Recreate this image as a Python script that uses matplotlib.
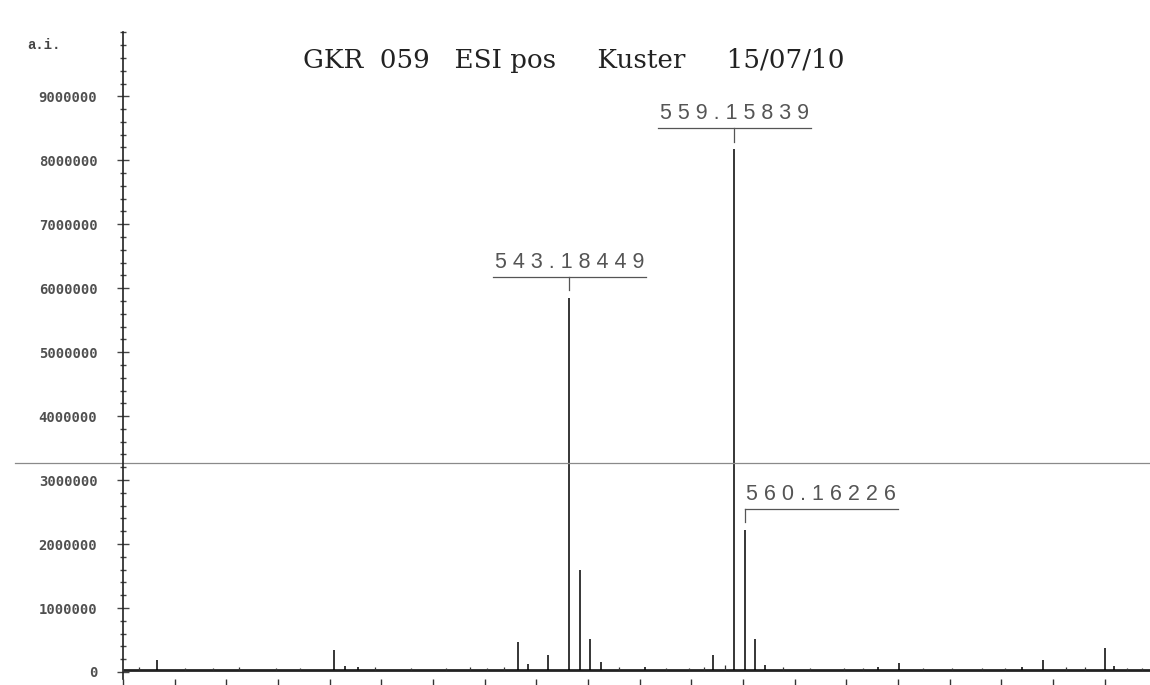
import matplotlib
matplotlib.use("Agg")
import matplotlib.pyplot as plt
from matplotlib.ticker import MultipleLocator, NullFormatter

# peaks (m/z, intensity in a.i.)
peak_mz = [503.3, 520.4, 521.5, 522.7, 538.2, 539.2, 541.1, 543.18449, 544.19, 545.2,
           546.3, 550.5, 557.1, 559.15839, 560.16226, 561.2, 562.1, 573.1, 575.1,
           587.0, 589.0, 595.0, 595.9]
peak_int = [190000, 340000, 90000, 80000, 470000, 120000, 260000, 5850000, 1600000, 520000,
            160000, 70000, 270000, 8170000, 2220000, 510000, 110000, 80000, 140000,
            70000, 180000, 380000, 90000]

# small noise sticks along the baseline
noise_mz = [501.5, 506.0, 508.7, 511.2, 514.8, 517.1, 524.4, 527.9, 531.3, 533.6, 535.2,
            536.9, 548.0, 552.6, 554.8, 556.2, 558.3, 563.9, 566.5, 569.8, 571.6, 577.4,
            580.2, 583.1, 585.4, 591.3, 593.1, 597.2, 598.6]
noise_int = [70000, 60000, 65000, 80000, 55000, 60000, 70000, 55000, 65000, 75000, 60000,
             70000, 80000, 55000, 60000, 70000, 110000, 70000, 60000, 55000, 65000, 60000,
             55000, 65000, 60000, 70000, 75000, 60000, 55000]
baseline = 30000

labels = ["543.18449", "559.15839", "560.16226"]
label_mz = [543.18449, 559.15839, 560.16226]
label_int = [5850000, 8170000, 2220000]
label_align = ["center", "center", "left"]

y_ticks = [0, 1000000, 2000000, 3000000, 4000000, 5000000, 6000000, 7000000, 8000000, 9000000]

title = "GKR  059   ESI pos     Kuster     15/07/10"
scan_line = 3270000  # fold line on the scanned page

fig = plt.figure(figsize=(11.5, 6.85), dpi=100)
ax = fig.add_axes([0.107, 0.00876, 0.893, 0.944])

ax.plot([500, 599.4], [baseline, baseline], color="#222222", lw=2.0, solid_capstyle="butt")
ax.vlines(noise_mz, baseline, noise_int, color="#333333", lw=0.9)
ax.vlines(peak_mz, baseline, peak_int, color="black", lw=1.1)

# peak labels: spaced digits on an underline, with a short stem down to the peak
width = 14.8
for txt, mz, h, al in zip(labels, label_mz, label_int, label_align):
    y_line = h + 330000
    if al == "center":
        x0, x1 = mz - width / 2, mz + width / 2
    else:
        x0, x1 = mz, mz + width
    ax.plot([x0, x1], [y_line, y_line], color="#555555", lw=0.9)
    ax.plot([mz, mz], [y_line, h + 120000], color="#555555", lw=0.9)
    ax.text((x0 + x1) / 2, y_line + 60000, " ".join(txt), ha="center", va="bottom",
            family="Liberation Sans", fontsize=15.5, color="#555555")

ax.axhline(scan_line, xmin=-0.105, xmax=1, color="#8a8a8a", lw=0.9, clip_on=False)

ax.set_xlim(500, 599.4)
ax.set_ylim(-110000, 10000000)

ax.xaxis.set_major_locator(MultipleLocator(10))
ax.xaxis.set_minor_locator(MultipleLocator(5))
ax.xaxis.set_major_formatter(NullFormatter())
ax.set_yticks(y_ticks)
ax.set_yticklabels(["%d" % v for v in y_ticks])
ax.yaxis.set_minor_locator(MultipleLocator(200000))

ax.tick_params(axis="x", which="major", direction="out", length=6, width=1, color="#333333")
ax.tick_params(axis="x", which="minor", direction="out", length=5, width=1, color="#333333")
ax.tick_params(axis="y", which="major", direction="inout", length=9, width=1, color="#444444",
               pad=14, labelsize=10, labelcolor="#505050")
ax.tick_params(axis="y", which="minor", direction="inout", length=5, width=1, color="#444444")
for lab in ax.get_yticklabels():
    lab.set_family("DejaVu Sans Mono")
    lab.set_fontweight("bold")

for s in ["top", "right", "bottom"]:
    ax.spines[s].set_visible(False)
ax.spines["left"].set_color("#222222")
ax.spines["left"].set_linewidth(1.2)

fig.text(0.499, 0.911, title, ha="center", va="center", family="DejaVu Serif",
         fontsize=18.8, color="#222222")
fig.text(0.024, 0.935, "a.i.", ha="left", va="center", family="Liberation Mono",
         fontweight="bold", fontsize=10, color="#444444")

fig.savefig("out.png", dpi=100, facecolor="white")
